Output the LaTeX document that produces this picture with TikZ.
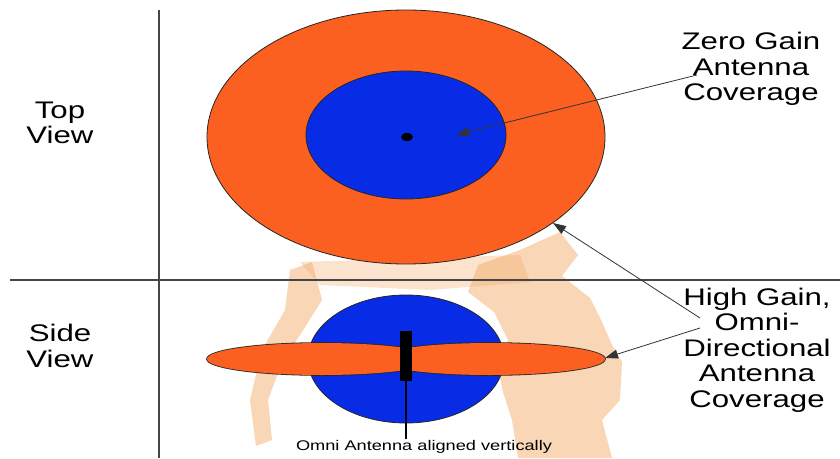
\documentclass[tikz,border=0pt]{standalone}
\usepackage{fontspec}
\usetikzlibrary{arrows.meta,shapes.geometric}
\newfontfamily\labfont[FakeStretch=1.3]{Liberation Sans}
\definecolor{ora}{RGB}{252,96,32}
\definecolor{blu}{RGB}{8,44,230}
\definecolor{wm}{RGB}{242,165,95}
\definecolor{rule}{RGB}{70,70,70}
\tikzset{
  big/.style={font=\labfont\fontsize{24}{25.5}\selectfont, align=center, inner sep=0pt},
  small/.style={font=\labfont\fontsize{14}{16}\selectfont, inner sep=1pt},
  pointer/.style={draw=black!80, line width=0.8pt, -{Triangle[length=13pt,width=9pt]}},
  outline/.style={draw=black!85, line width=0.8pt},
  watermark/.style={fill=wm, fill opacity=0.45, draw=none}
}
\begin{document}
\begin{tikzpicture}[x=1pt,y=-1pt]
\useasboundingbox[fill=white] (0,0) rectangle (840,458);
% faint watermark blobs
\fill[watermark] (520,250) -- (560,232) -- (578,255) -- (562,276) -- (590,298) -- (602,322) -- (612,345) -- (622,362) -- (620,400) -- (602,420) -- (612,458) -- (518,458) -- (512,420) -- (503,392) -- (498,368) -- (508,340) -- (494,312) -- (468,292) -- (478,265) -- cycle;
\fill[watermark] (290,270) -- (312,262) -- (322,300) -- (302,332) -- (282,362) -- (268,400) -- (272,440) -- (256,446) -- (250,400) -- (262,350) -- (285,310) -- cycle;
\fill[watermark, fill opacity=0.3] (300,262) -- (520,255) -- (530,282) -- (430,290) -- (320,285) -- cycle;
% dividing lines
\coordinate (vtop) at (159,10);
\coordinate (vbot) at (159,458);
\coordinate (hl) at (10,280);
\coordinate (hr) at (840,280);
\draw[rule, line width=1.4pt] (vtop) -- (vbot);
\draw[rule, line width=1.4pt] (hl) -- (hr);
% top view
\fill[ora] (406,137) ellipse [x radius=199, y radius=127];
\draw[outline] (406,137) ellipse [x radius=199, y radius=127];
\filldraw[fill=blu, outline] (406,135) ellipse [x radius=100, y radius=64];
\fill[black] (407,137) ellipse [x radius=6, y radius=4];
% side view
\filldraw[fill=blu, outline] (406,359) ellipse [x radius=98, y radius=64];
\draw[black!85, line width=1.6pt] (322,359) ellipse [x radius=115, y radius=16];
\draw[black!85, line width=1.6pt] (490,359) ellipse [x radius=115, y radius=16];
\fill[ora] (322,359) ellipse [x radius=115, y radius=16];
\fill[ora] (490,359) ellipse [x radius=115, y radius=16];
\node[fill=black, minimum width=12pt, minimum height=50pt, inner sep=0pt] (ant) at (406,356) {};
% labels
\node[big] (top) at (60,123) {Top\\View};
\node[big] (side) at (60,346) {Side\\View};
\node[big] (zero) at (751,69) {Zero Gain\\Antenna\\Coverage};
\node[big] (high) at (757,350) {High Gain,\\Omni-\\Directional\\Antenna\\Coverage};
\node[small] (omni) at (424,447) {Omni Antenna aligned vertically};
% connectors
\coordinate (zs) at (697,75);
\coordinate (zt) at (456,135);
\coordinate (hs1) at (700,318);
\coordinate (ht1) at (553,223);
\coordinate (hs2) at (700,328);
\coordinate (ht2) at (605,358);
\draw[pointer] (zs) -- (zt);
\draw[pointer] (hs1) -- (ht1);
\draw[pointer] (hs2) -- (ht2);
\draw[black, line width=1.2pt] (ant.south) -- (ant.south |- omni.north);
\end{tikzpicture}
\end{document}
